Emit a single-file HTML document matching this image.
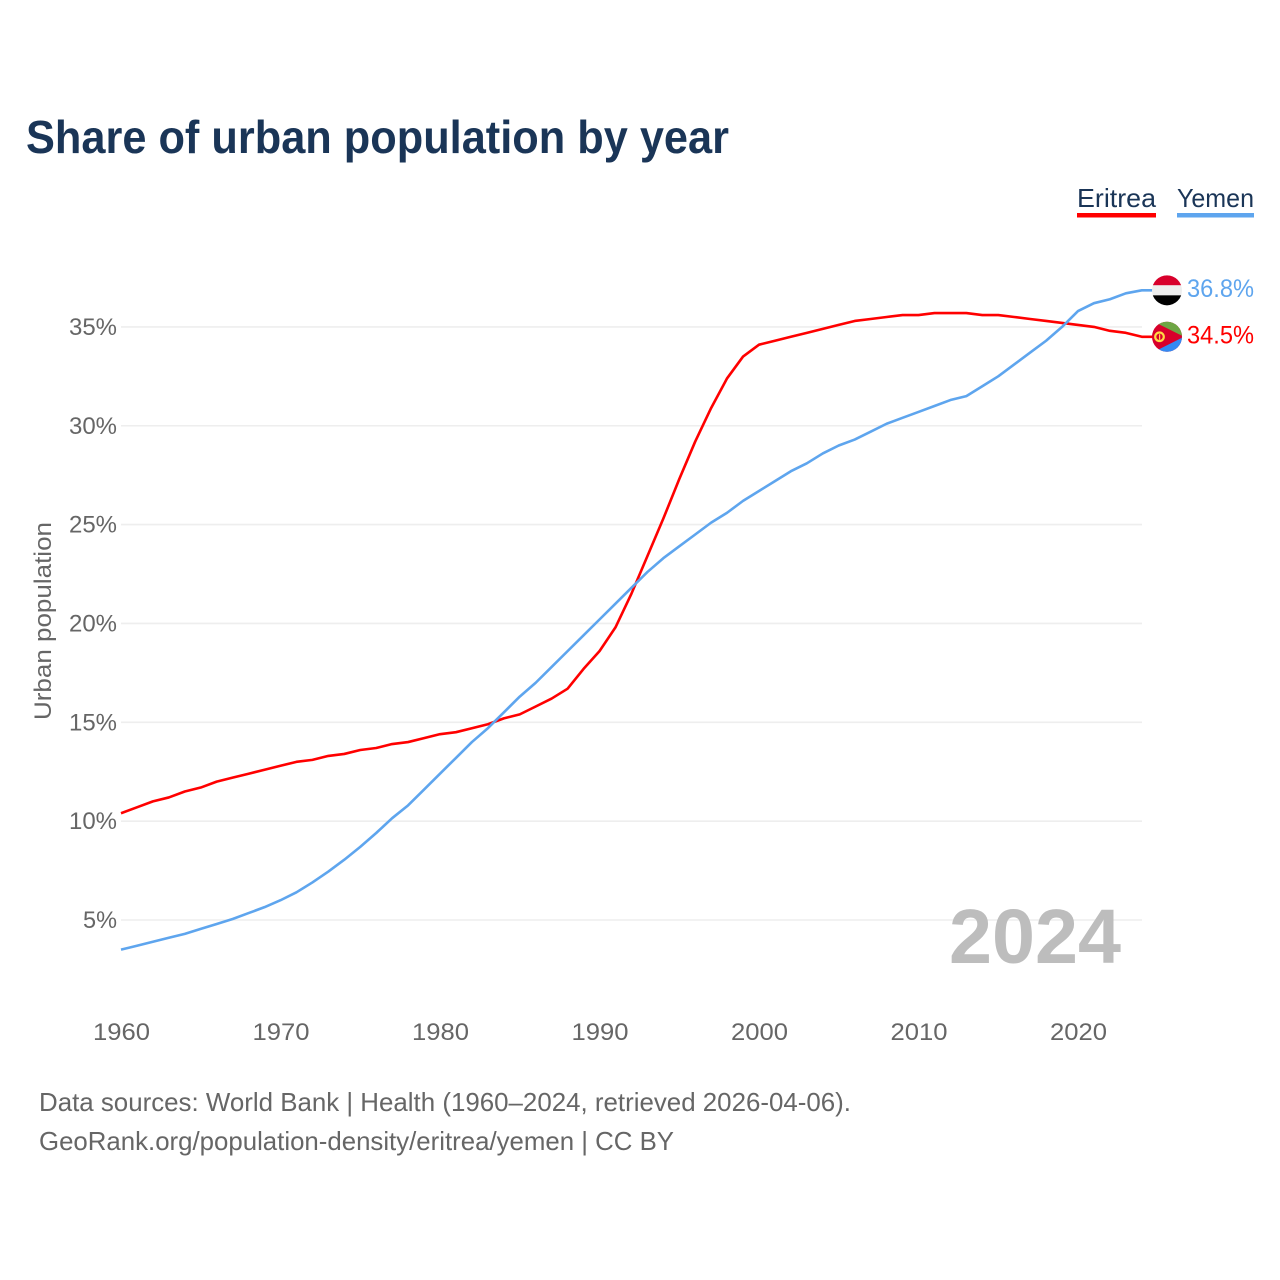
<!DOCTYPE html>
<html lang="en">
<head>
<meta charset="utf-8">
<title>Share of urban population by year</title>
<style>
html,body{margin:0;padding:0;background:#fff;}
svg{display:block;font-family:"Liberation Sans",sans-serif;}
</style>
</head>
<body>
<svg id="chart" xmlns="http://www.w3.org/2000/svg" width="1280" height="1280" viewBox="0 0 1280 1280">
  <rect width="1280" height="1280" fill="#fff"/>
  <text x="26" y="153" font-size="46" font-weight="700" fill="#1a3557" textLength="703" lengthAdjust="spacingAndGlyphs">Share of urban population by year</text>
  <g>
    <text x="1077" y="207" font-size="26" fill="#1a3557" textLength="79" lengthAdjust="spacingAndGlyphs">Eritrea</text>
    <rect x="1077" y="213" width="79" height="4.5" fill="#ff0000"/>
  </g>
  <g>
    <text x="1177" y="207" font-size="26" fill="#1a3557" textLength="77" lengthAdjust="spacingAndGlyphs">Yemen</text>
    <rect x="1177" y="213" width="77" height="4.5" fill="#5ea5ee"/>
  </g>
  <g id="grid"></g>
  <g id="yticks"></g>
  <g id="xticks"></g>
  <text transform="translate(51,720) rotate(-90)" font-size="24" fill="#666" textLength="198" lengthAdjust="spacingAndGlyphs">Urban population</text>
  <text x="949" y="963" font-size="77" font-weight="700" fill="#bdbdbd" textLength="172" lengthAdjust="spacingAndGlyphs">2024</text>
  <g id="series"></g>
  <defs>
    <clipPath id="clip-yemen"><circle id="clip-yemen-c" cx="1167" cy="290" r="15"/></clipPath>
    <clipPath id="clip-eritrea"><circle id="clip-eritrea-c" cx="1167" cy="336" r="15"/></clipPath>
  </defs>
  <g id="flag-yemen" clip-path="url(#clip-yemen)"></g>
  <g id="flag-eritrea" clip-path="url(#clip-eritrea)"></g>
  <g id="end-labels"></g>
  <text x="39" y="1111" font-size="26" fill="#666" textLength="812" lengthAdjust="spacingAndGlyphs">Data sources: World Bank | Health (1960–2024, retrieved 2026-04-06).</text>
  <text x="39" y="1150" font-size="26" fill="#666" textLength="635" lengthAdjust="spacingAndGlyphs">GeoRank.org/population-density/eritrea/yemen | CC BY</text>
</svg>
<script>
const years = [1960,1961,1962,1963,1964,1965,1966,1967,1968,1969,1970,1971,1972,1973,1974,1975,1976,1977,1978,1979,1980,1981,1982,1983,1984,1985,1986,1987,1988,1989,1990,1991,1992,1993,1994,1995,1996,1997,1998,1999,2000,2001,2002,2003,2004,2005,2006,2007,2008,2009,2010,2011,2012,2013,2014,2015,2016,2017,2018,2019,2020,2021,2022,2023,2024];
const eritreaValues = [10.4,10.7,11.0,11.2,11.5,11.7,12.0,12.2,12.4,12.6,12.8,13.0,13.1,13.3,13.4,13.6,13.7,13.9,14.0,14.2,14.4,14.5,14.7,14.9,15.2,15.4,15.8,16.2,16.7,17.7,18.6,19.8,21.5,23.4,25.3,27.3,29.2,30.9,32.4,33.5,34.1,34.3,34.5,34.7,34.9,35.1,35.3,35.4,35.5,35.6,35.6,35.7,35.7,35.7,35.6,35.6,35.5,35.4,35.3,35.2,35.1,35.0,34.8,34.7,34.5];
const yemenValues = [3.5,3.7,3.9,4.1,4.3,4.55,4.8,5.05,5.35,5.65,6.0,6.4,6.9,7.45,8.05,8.7,9.4,10.15,10.8,11.6,12.4,13.2,14.0,14.7,15.5,16.3,17.0,17.8,18.6,19.4,20.2,21.0,21.8,22.6,23.3,23.9,24.5,25.1,25.6,26.2,26.7,27.2,27.7,28.1,28.6,29.0,29.3,29.7,30.1,30.4,30.7,31.0,31.3,31.5,32.0,32.5,33.1,33.7,34.3,35.0,35.8,36.2,36.4,36.7,36.85];
const yTicks = [5,10,15,20,25,30,35];
const xTicks = [1960,1970,1980,1990,2000,2010,2020];
const eritreaLabel = "34.5%";
const yemenLabel = "36.8%";

const NS = "http://www.w3.org/2000/svg";
const xScale = function (year) { return 121 + (year - 1960) * 15.95; };
const yScale = function (value) { return 920 - (value - 5) * 19.77; };

function make(parent, tag, attrs, text) {
  const el = document.createElementNS(NS, tag);
  for (const k in attrs) el.setAttribute(k, attrs[k]);
  if (text !== undefined) el.textContent = text;
  parent.appendChild(el);
  return el;
}

const grid = document.getElementById("grid");
const yTickGroup = document.getElementById("yticks");
const xTickGroup = document.getElementById("xticks");
yTicks.forEach(function (t) {
  const line = make(grid, "line", {x1: 121, x2: 1142, y1: yScale(t), y2: yScale(t), stroke: "#eeeeee", "stroke-width": 1.6});
  
  
  const label = String(t) + "%";
  const w = label.length === 3 ? 48 : 34;
  const txt = make(yTickGroup, "text", {x: 117 - w, y: yScale(t) + 8, "font-size": 24, fill: "#666", textLength: w, lengthAdjust: "spacingAndGlyphs"}, label);
  
  
});
xTicks.forEach(function (t) {
  const txt = make(xTickGroup, "text", {x: xScale(t) - 28, y: 1040, "font-size": 24, fill: "#666", textLength: 57, lengthAdjust: "spacingAndGlyphs"}, String(t));
  
  
});

const seriesGroup = document.getElementById("series");
function drawSeries(values, color) {
  const pts = values.map(function (v, i) { return xScale(years[i]).toFixed(2) + "," + yScale(v).toFixed(2); });
  const lastY = yScale(values[values.length - 1]).toFixed(2);
  pts.push("1153," + lastY);
  return make(seriesGroup, "polyline", {points: pts.join(" "), fill: "none", stroke: color, "stroke-width": 2.6, "stroke-linejoin": "round"});
}
const eritreaLine = drawSeries(eritreaValues, "#ff0000");


const yemenLine = drawSeries(yemenValues, "#5ea5ee");



const yemenY = yScale(yemenValues[yemenValues.length - 1]);
const eritreaY = yScale(eritreaValues[eritreaValues.length - 1]);
document.getElementById("clip-yemen-c").setAttribute("cy", yemenY);
document.getElementById("clip-eritrea-c").setAttribute("cy", eritreaY);

const fy = document.getElementById("flag-yemen");
make(fy, "rect", {x: 1152, y: yemenY - 15.5, width: 30, height: 10.5, fill: "#d8002b"});
make(fy, "rect", {x: 1152, y: yemenY - 5, width: 30, height: 10, fill: "#eeeeee"});
make(fy, "rect", {x: 1152, y: yemenY + 5, width: 30, height: 10.5, fill: "#000000"});

const fe = document.getElementById("flag-eritrea");
const cy = eritreaY;
make(fe, "rect", {x: 1152, y: cy - 16, width: 30, height: 32, fill: "#d8002b"});
make(fe, "polygon", {points: "1152," + (cy - 16) + " 1182," + (cy - 16) + " 1182," + (cy - 1) + " 1152," + (cy - 16), fill: "#6da544"});
make(fe, "polygon", {points: "1152," + (cy + 16) + " 1182," + (cy + 16) + " 1182," + (cy + 1) + " 1152," + (cy + 16), fill: "#338af3"});
make(fe, "circle", {cx: 1159.5, cy: cy, r: 4.3, fill: "none", stroke: "#ffda44", "stroke-width": 2.2});
make(fe, "rect", {x: 1159, y: cy - 2.5, width: 1.2, height: 5.5, fill: "#ffda44"});

const endLabels = document.getElementById("end-labels");
const yemenText = make(endLabels, "text", {x: 1187, y: yemenY + 6.5, "font-size": 25, fill: "#5ea5ee", textLength: 67, lengthAdjust: "spacingAndGlyphs"}, yemenLabel);


const eritreaText = make(endLabels, "text", {x: 1187, y: eritreaY + 6.5, "font-size": 25, fill: "#ff0000", textLength: 67, lengthAdjust: "spacingAndGlyphs"}, eritreaLabel);


</script>
</body>
</html>
